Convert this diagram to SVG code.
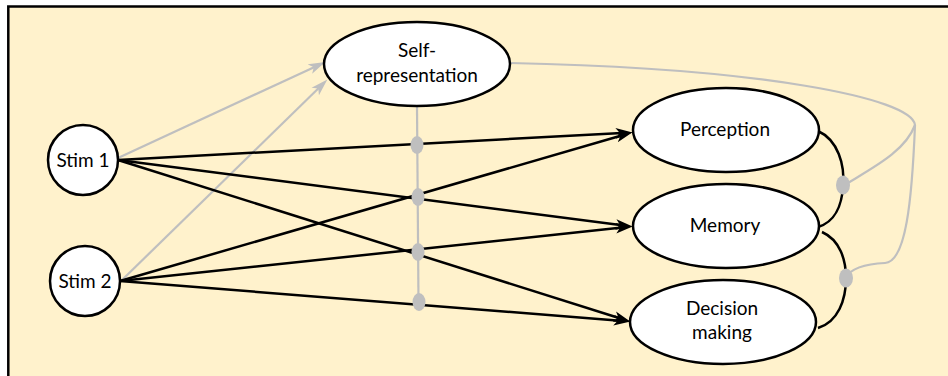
<svg xmlns="http://www.w3.org/2000/svg" width="948" height="376" viewBox="0 0 948 376">
<style>
.node{fill:#ffffff;stroke:#000000;stroke-width:2.5}
.lbl{font-family:Lato,"Liberation Sans",sans-serif;font-size:19px;fill:#000000;text-anchor:middle}
.blk{fill:none;stroke:#000000;stroke-width:2.5}
.gry{fill:none;stroke:#bfbfbf;stroke-width:2.2}
.dot{fill:#bfbfbf;stroke:none}
</style>
<defs>
<marker id="ab" markerUnits="userSpaceOnUse" markerWidth="18" markerHeight="12" refX="6" refY="5" orient="auto" viewBox="0 0 17 10">
<path d="M0,0 L16,5 L0,10 L4,5 Z" fill="#000000"/>
</marker>
<marker id="ag" markerUnits="userSpaceOnUse" markerWidth="18" markerHeight="12" refX="6" refY="5" orient="auto" viewBox="0 0 17 10">
<path d="M0,0 L16,5 L0,10 L4,5 Z" fill="#bfbfbf"/>
</marker>
</defs>
<rect x="0" y="0" width="948" height="376" fill="#ffffff"/>
<rect x="8.3" y="6.5" width="1000" height="500" fill="#fff2cc" stroke="#000000" stroke-width="2.5"/>
<g id="connectors">
<path class="gry" d="M417,106 L418.5,302"/>
<path class="gry" d="M118,158 L315.7,66.4" marker-end="url(#ag)"/>
<path class="gry" d="M122,280 L319.8,87" marker-end="url(#ag)"/>
<path class="gry" d="M510,63 C760,68 912,98 915,125"/>
<path class="gry" d="M915,125 C905,152 872,168 843,186"/>
<path class="gry" d="M915,125 C912,200 906,262 885,263 C862,264 850,270 845,278"/>
<path class="blk" d="M118,160 L622,133" marker-end="url(#ab)"/>
<path class="blk" d="M118,160 L622.1,225.2" marker-end="url(#ab)"/>
<path class="blk" d="M118,160 L620.5,318.5" marker-end="url(#ab)"/>
<path class="blk" d="M120,281 L622.4,135.3" marker-end="url(#ab)"/>
<path class="blk" d="M120,281 L622.1,227.6" marker-end="url(#ab)"/>
<path class="blk" d="M120,281 L620,320.7" marker-end="url(#ab)"/>
<path class="blk" d="M818,131 C838,140 845,165 843,186 C842,205 835,222 818,227"/>
<path class="blk" d="M822,232 C840,240 846,260 846,278 C846,300 838,322 818,328"/>
<ellipse class="dot" cx="417" cy="145" rx="6.5" ry="9"/>
<ellipse class="dot" cx="418" cy="197" rx="6.5" ry="9"/>
<ellipse class="dot" cx="418" cy="252" rx="6.5" ry="9"/>
<ellipse class="dot" cx="419" cy="302" rx="6.5" ry="9"/>
<ellipse class="dot" cx="843" cy="185" rx="7" ry="9.5"/>
<ellipse class="dot" cx="846" cy="278" rx="7" ry="9.5"/>
</g>
<g id="stim1">
<circle class="node" cx="83" cy="160" r="35"/>
<text class="lbl" x="83" y="167">Stim 1</text>
</g>
<g id="stim2">
<circle class="node" cx="85" cy="281" r="35"/>
<text class="lbl" x="85" y="288">Stim 2</text>
</g>
<g id="self">
<ellipse class="node" cx="417" cy="64" rx="93" ry="42"/>
<text class="lbl" x="417" y="57">Self-</text>
<text class="lbl" x="417" y="82">representation</text>
</g>
<g id="perception">
<ellipse class="node" cx="726" cy="130" rx="93" ry="42"/>
<text class="lbl" x="725" y="136">Perception</text>
</g>
<g id="memory">
<ellipse class="node" cx="726" cy="226" rx="93" ry="42"/>
<text class="lbl" x="725" y="232">Memory</text>
</g>
<g id="decision">
<ellipse class="node" cx="723" cy="322" rx="93" ry="42"/>
<text class="lbl" x="722" y="315">Decision</text>
<text class="lbl" x="722" y="339">making</text>
</g>
</svg>
